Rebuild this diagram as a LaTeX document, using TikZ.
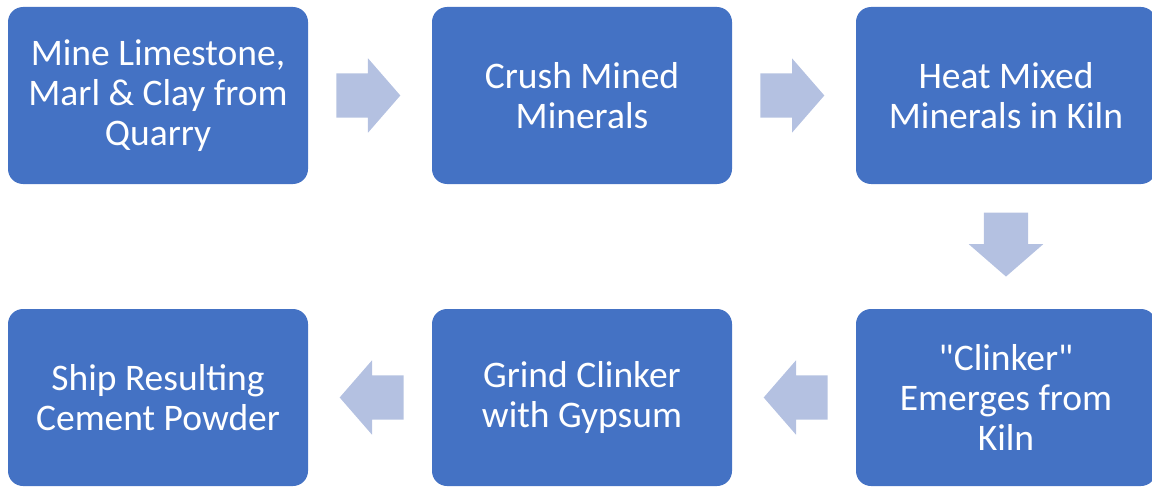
\documentclass[tikz,border=0pt]{standalone}
\usepackage{fontspec}
\setmainfont{Carlito}
\usetikzlibrary{positioning,shapes.arrows}
\definecolor{boxblue}{HTML}{4472C4}
\definecolor{arrowblue}{HTML}{B4C1E1}

\begin{document}
\begin{tikzpicture}[x=1pt,y=-1pt,node distance=424pt,on grid,
   process/.style={rectangle,rounded corners=15pt,fill=boxblue,text=white,
      minimum width=300pt,minimum height=177pt,align=center,
      font=\fontsize{37.5}{40}\selectfont},
   flow/.style={single arrow,fill=arrowblue,minimum height=64pt,
      single arrow head extend=15pt,single arrow tip angle=98,
      inner sep=0pt,inner ysep=22pt,anchor=tail,pos=0.226,
      sloped,allow upside down}]
   \useasboundingbox (0,0) rectangle (1152,487);
   \node[process] (mine) at (158,95.5) {Mine Limestone,\\Marl \& Clay from\\Quarry};
   \node[process] (crush) [right=of mine] {Crush Mined\\Minerals};
   \node[process] (heat) [right=of crush] {Heat Mixed\\Minerals in Kiln};
   \node[process] (clinker) [below=302pt of heat] {\textquotedbl Clinker\textquotedbl\\Emerges from\\Kiln};
   \node[process] (grind) [left=of clinker] {Grind Clinker\\with Gypsum};
   \node[process] (ship) [left=of grind] {Ship Resulting\\Cement Powder};
   \path (mine) -- (crush) node[flow] {}
         (crush) -- (heat) node[flow] {}
         (heat) -- (clinker) node[flow] {}
         (clinker) -- (grind) node[flow] {}
         (grind) -- (ship) node[flow] {};
\end{tikzpicture}
\end{document}
